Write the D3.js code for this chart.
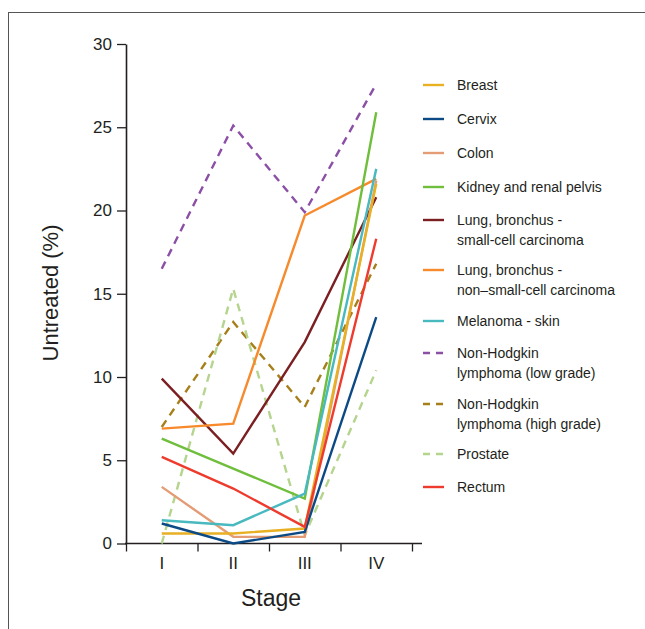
<!DOCTYPE html>
<html>
<head>
<meta charset="utf-8">
<script src="https://cdn.jsdelivr.net/npm/d3@7"></script>
<style>
  body { margin: 0; background: #fff; }
  svg text { font-family: "Liberation Sans", Arial, sans-serif; fill: #231f20; }
</style>
</head>
<body>
<div id="chart"></div>
<script>
// stages on the x axis
var stages = ["I", "II", "III", "IV"];
var yTicks = [0, 5, 10, 15, 20, 25, 30];

// % untreated, per stage
var breast    = [0.6, 0.6, 0.9, 21.6];
var cervix    = [1.2, 0.0, 0.7, 13.6];
var colon     = [3.4, 0.4, 0.4, 21.8];
var kidney    = [6.3, 4.5, 2.7, 25.9];
var lungSmall = [9.9, 5.4, 12.1, 20.8];
var lungNon   = [6.9, 7.2, 19.7, 21.9];
var melanoma  = [1.4, 1.1, 3.0, 22.5];
var nhlLow    = [16.5, 25.1, 19.9, 27.6];
var nhlHigh   = [7.0, 13.3, 8.2, 16.8];
var prostate  = [0.0, 15.3, 0.5, 10.4];
var rectum    = [5.2, 3.3, 1.0, 18.3];

var names = ["Breast", "Cervix", "Colon", "Kidney and renal pelvis",
  "Lung, bronchus -\nsmall-cell carcinoma", "Lung, bronchus -\nnon\u2013small-cell carcinoma",
  "Melanoma - skin", "Non-Hodgkin\nlymphoma (low grade)", "Non-Hodgkin\nlymphoma (high grade)",
  "Prostate", "Rectum"];
var values = [breast, cervix, colon, kidney, lungSmall, lungNon, melanoma, nhlLow, nhlHigh, prostate, rectum];
var colors = ["#e8b023", "#0c4a86", "#e39c74", "#6fbe3c", "#7b1f22", "#f68a2c",
  "#47b9bf", "#8b4fa6", "#a67f1a", "#b5d48d", "#ee3b2d"];
var dashed = [false, false, false, false, false, false, false, true, true, true, false];

// drawing order (back to front)
var order = [7, 8, 9, 4, 5, 3, 2, 0, 1, 6, 10];

var W = 645, H = 629;
var svg = d3.select("#chart").append("svg").attr("width", W).attr("height", H);

// panel frame (cut off at right and bottom)
svg.append("rect").attr("x", 8.5).attr("y", 12.5).attr("width", 700).attr("height", 700)
  .attr("fill", "none").attr("stroke", "#555").attr("stroke-width", 1);

var x = d3.scaleBand().domain(stages).range([126, 412]);
var xEdge = d3.scaleLinear().domain([0, 4]).range([126, 412]);
var y = d3.scaleLinear().domain([0, 30]).range([543.5, 44]);

// y axis
var gy = svg.append("g").attr("transform", "translate(126,0)")
  .call(d3.axisLeft(y).tickValues(yTicks).tickSize(9).tickSizeOuter(0));
gy.select(".domain").attr("stroke", "#231f20").attr("stroke-width", 1.6);
gy.selectAll(".tick line").attr("stroke", "#231f20").attr("stroke-width", 1.3);
gy.selectAll(".tick text").attr("x", -14).style("font-size", "17px").attr("fill", "#231f20");

// x axis: tick marks on band edges, labels at band centres
var gx = svg.append("g").attr("transform", "translate(0,543.5)")
  .call(d3.axisBottom(xEdge).ticks(4).tickSize(8).tickFormat(""));
gx.select(".domain").remove();
gx.selectAll(".tick line").attr("stroke", "#231f20").attr("stroke-width", 1.3);
gx.append("line").attr("x1", 125).attr("x2", 422).attr("stroke", "#231f20").attr("stroke-width", 1.6);

var gxl = svg.append("g").attr("transform", "translate(0,543.5)")
  .call(d3.axisBottom(x).tickSize(0).tickPadding(13));
gxl.select(".domain").remove();
gxl.selectAll(".tick text").style("font-size", "17px").attr("fill", "#231f20");

// axis titles
svg.append("text").attr("x", 271).attr("y", 606).attr("text-anchor", "middle")
  .style("font-size", "23px").text("Stage");
svg.append("text").attr("transform", "translate(58,293) rotate(-90)").attr("text-anchor", "middle")
  .style("font-size", "22px").text("Untreated (%)");

// series lines
var line = d3.line()
  .x(function(d, i) { return x(stages[i]) + x.bandwidth() / 2; })
  .y(function(d) { return y(d); });

order.forEach(function(k) {
  svg.append("path").datum(values[k])
    .attr("d", line)
    .attr("fill", "none")
    .attr("stroke", colors[k])
    .attr("stroke-width", 2.4)
    .attr("stroke-dasharray", dashed[k] ? "8,6" : null);
});

// legend
var legY = [85, 119, 153, 187, 220, 270, 321, 353, 404, 454, 487];
var leg = svg.append("g");
names.forEach(function(n, k) {
  var g = leg.append("g").attr("transform", "translate(0," + legY[k] + ")");
  g.append("line").attr("x1", 423).attr("x2", 444).attr("y1", 0).attr("y2", 0)
    .attr("stroke", colors[k]).attr("stroke-width", 2.4)
    .attr("stroke-dasharray", dashed[k] ? "7,6" : null);
  var t = g.append("text").attr("x", 457).attr("y", 5).style("font-size", "14px");
  n.split("\n").forEach(function(s, j) {
    t.append("tspan").attr("x", 457).attr("dy", j === 0 ? 0 : 19.5).text(s);
  });
});
</script>
</body>
</html>
